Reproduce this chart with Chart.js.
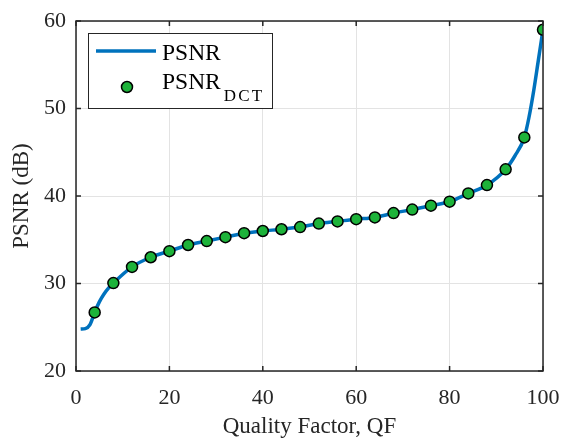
<!DOCTYPE html>
<html>
<head>
<meta charset="utf-8">
<script src="https://cdn.jsdelivr.net/npm/chart.js@4.4.1/dist/chart.umd.min.js"></script>
<style>
  html, body { margin: 0; padding: 0; background: #fff; }
  #wrap { width: 562px; height: 438px; position: relative; }
</style>
</head>
<body>
<div id="wrap"><canvas id="c"></canvas></div>
<script>
// ---- data ----
const qfMarkers = [4, 8, 12, 16, 20, 24, 28, 32, 36, 40, 44, 48, 52, 56, 60, 64, 68, 72, 76, 80, 84, 88, 92, 96, 100];
const psnrDct   = [26.7, 30.05, 31.9, 33.0, 33.7, 34.4, 34.85, 35.3, 35.75, 36.0, 36.2, 36.45, 36.85, 37.1, 37.35, 37.55, 38.05, 38.45, 38.9, 39.35, 40.3, 41.25, 43.05, 46.7, 59.0];
const qfLine    = [1, 2, 3, 4, 5, 6, 7, 8, 12, 16, 20, 24, 28, 32, 36, 40, 44, 48, 52, 56, 60, 64, 68, 72, 76, 80, 84, 88, 92, 94, 96, 97, 98, 99, 100];
const psnrLine  = [24.8, 24.85, 25.3, 26.7, 27.9, 28.8, 29.5, 30.05, 31.9, 33.0, 33.7, 34.4, 34.85, 35.3, 35.75, 36.0, 36.2, 36.45, 36.85, 37.1, 37.35, 37.55, 38.05, 38.45, 38.9, 39.35, 40.3, 41.25, 43.05, 44.6, 46.7, 49.0, 52.0, 55.5, 59.0];
const xTicks = [0, 20, 40, 60, 80, 100];
const yTicks = [20, 30, 40, 50, 60];
const legendLabels = ['PSNR', 'PSNR', 'DCT'];

const FONT = "'Liberation Serif', 'Times New Roman', serif";
const AXIS = '#262626';

const boxPlugin = {
  id: 'matlabBox',
  afterDraw(chart) {
    const ctx = chart.ctx, a = chart.chartArea;
    const xs = chart.scales.x, ys = chart.scales.y;
    ctx.save();
    ctx.strokeStyle = AXIS;
    ctx.lineWidth = 1.5;
    ctx.strokeRect(a.left, a.top, a.right - a.left, a.bottom - a.top);
    const tl = 5;
    ctx.beginPath();
    xTicks.forEach(v => {
      const px = xs.getPixelForValue(v);
      ctx.moveTo(px, a.bottom); ctx.lineTo(px, a.bottom - tl);
      ctx.moveTo(px, a.top); ctx.lineTo(px, a.top + tl);
    });
    yTicks.forEach(v => {
      const py = ys.getPixelForValue(v);
      ctx.moveTo(a.left, py); ctx.lineTo(a.left + tl, py);
      ctx.moveTo(a.right, py); ctx.lineTo(a.right - tl, py);
    });
    ctx.stroke();

    // legend
    const lx = 88, ly = 33, lw = 184, lh = 75;
    ctx.fillStyle = '#fff';
    ctx.fillRect(lx, ly, lw, lh);
    ctx.strokeStyle = '#262626';
    ctx.lineWidth = 1;
    ctx.strokeRect(lx + 0.5, ly + 0.5, lw, lh);
    ctx.strokeStyle = '#0072BD';
    ctx.lineWidth = 3.5;
    ctx.beginPath();
    ctx.moveTo(96, 51); ctx.lineTo(156, 51);
    ctx.stroke();
    ctx.beginPath();
    ctx.arc(127, 87, 5.5, 0, Math.PI * 2);
    ctx.fillStyle = '#1DB33A';
    ctx.fill();
    ctx.lineWidth = 1.5;
    ctx.strokeStyle = '#000';
    ctx.stroke();
    ctx.fillStyle = '#000';
    ctx.textBaseline = 'alphabetic';
    ctx.textAlign = 'left';
    ctx.font = '23.5px ' + FONT;
    ctx.fillText(legendLabels[0], 162, 60);
    ctx.fillText(legendLabels[1], 162, 88.5);
    const w = ctx.measureText(legendLabels[1]).width;
    ctx.font = '17px ' + FONT;
    let sx = 162 + w + 3;
    for (const ch of legendLabels[2]) {
      ctx.fillText(ch, sx, 101);
      sx += ctx.measureText(ch).width + 2.2;
    }
    ctx.restore();
  }
};

new Chart(document.getElementById('c'), {
  type: 'line',
  data: {
    datasets: [
      {
        label: 'PSNR',
        data: qfLine.map((q, i) => ({ x: q, y: psnrLine[i] })),
        borderColor: '#0072BD',
        borderWidth: 3.5,
        pointRadius: 0,
        fill: false,
        cubicInterpolationMode: 'monotone',
        order: 2
      },
      {
        label: 'PSNR_DCT',
        data: qfMarkers.map((q, i) => ({ x: q, y: psnrDct[i] })),
        showLine: false,
        pointRadius: 5.5,
        pointHoverRadius: 5.5,
        pointBackgroundColor: '#1DB33A',
        pointBorderColor: '#000',
        pointBorderWidth: 1.5,
        order: 1
      }
    ]
  },
  options: {
    responsive: true,
    maintainAspectRatio: false,
    animation: false,
    events: [],
    layout: { padding: { top: 21, right: 19, left: 0, bottom: 0 } },
    plugins: { legend: { display: false }, tooltip: { enabled: false } },
    scales: {
      x: {
        type: 'linear',
        min: 0, max: 100,
        afterBuildTicks(s) { s.ticks = xTicks.map(v => ({ value: v })); },
        afterFit(s) { s.height = 67; s.paddingLeft = 0; s.paddingRight = 0; },
        grid: { color: '#e3e3e3', lineWidth: 1, drawTicks: false },
        border: { display: false },
        ticks: { color: '#262626', font: { family: FONT, size: 22 }, padding: 14, maxRotation: 0 },
        title: { display: true, text: 'Quality Factor, QF', color: '#262626', font: { family: FONT, size: 23 }, padding: { top: 3, bottom: -3 } }
      },
      y: {
        type: 'linear',
        min: 20, max: 60,
        afterBuildTicks(s) { s.ticks = yTicks.map(v => ({ value: v })); },
        afterFit(s) { s.width = 76; s.paddingTop = 0; s.paddingBottom = 0; },
        grid: { color: '#e3e3e3', lineWidth: 1, drawTicks: false },
        border: { display: false },
        ticks: { color: '#262626', font: { family: FONT, size: 22 }, padding: 10 },
        title: { display: true, text: 'PSNR (dB)', color: '#262626', font: { family: FONT, size: 23 }, padding: { top: 8, bottom: 0 } }
      }
    }
  },
  plugins: [boxPlugin]
});
</script>
</body>
</html>
